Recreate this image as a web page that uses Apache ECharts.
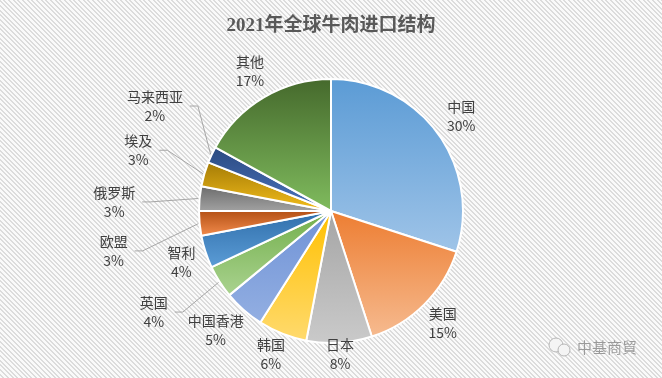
<!DOCTYPE html>
<html><head><meta charset="utf-8">
<script src="https://cdn.jsdelivr.net/npm/echarts@6/dist/echarts.min.js"></script>
<style>
html,body{margin:0;padding:0;}
#c{width:662px;height:378px;background:repeating-linear-gradient(45deg,#fafafa 0px,#fafafa 2px,#dcdcdc 2px,#dcdcdc 3.3px);}
</style></head><body><div id="c"></div>
<script>
// ---- data ----
const categories = ['中国','美国','日本','韩国','中国香港','英国','智利','欧盟','俄罗斯','埃及','马来西亚','其他'];
const shares = [30,15,8,6,5,4,4,3,3,3,2,17];
const titleText = '2021年全球牛肉进口结构';
const watermark = '中基商貿';

// ---- style ----
const colorTop    = ['#5b9bd5','#ed7d31','#a5a5a5','#ffc000','#6f92d6','#72ae4a','#2f6eaa','#b24f14','#6a6a6a','#a37a05','#2a4a80','#45692c'];
const colorBottom = ['#9fc4e8','#f6bb90','#cacaca','#ffda6e','#93afe2','#aad390','#5c9dd7','#f48d4e','#a3a3a3','#f5bf1c','#4c74bf','#80bc5e'];
const withLine  = [false,false,false,false,false,true,false,true,true,true,true,false];
const labelDist = [161,158,143,155,166,204,158,221,217,202,205,162];
const labelTurn = [0,0,0,1.2,2.6,2.7,-0.8,-5,-3,1.3,5.6,0.6];

const CX = 331, CY = 211, R = 132;
const total = shares.reduce((a,b)=>a+b,0);
const mids = []; let acc = 0;
shares.forEach(v => { mids.push((acc + v/2)/total*360); acc += v; });
function pt(angle, d){ const a = angle*Math.PI/180; return [CX + d*Math.sin(a), CY - d*Math.cos(a)]; }

const chart = echarts.init(document.getElementById('c'), null, {renderer:'canvas'});
chart.setOption({
  backgroundColor: 'transparent',
  animation: false,
  title: {
    text: titleText, left: 'center', top: 12,
    textStyle: {fontSize: 19, fontWeight: 'bold', color: '#595959', fontFamily: "'Liberation Serif','Noto Sans CJK SC'"}
  },
  graphic: [
    {type:'circle', shape:{cx:556, cy:345, r:7}, style:{fill:'#f4f4f4', stroke:'#b5b5b5', lineWidth:1}},
    {type:'circle', shape:{cx:564, cy:350, r:6}, style:{fill:'#f4f4f4', stroke:'#b5b5b5', lineWidth:1}},
    {type:'text', left:577, top:340, style:{text: watermark, fontSize:15, fill:'#9a9a9a', fontFamily:"'Noto Sans CJK SC'", textShadowColor:'#ffffff', textShadowBlur:1}}
  ],
  series: [{
    type: 'pie',
    center: [CX, CY],
    radius: [0, R],
    startAngle: 90,
    clockwise: true,
    avoidLabelOverlap: false,
    itemStyle: {borderColor: '#ffffff', borderWidth: 2},
    label: {
      show: true, position: 'outside',
      formatter: '{b}\n{c}%',
      fontSize: 14, lineHeight: 19, color: '#404040',
      fontFamily: "'Noto Sans CJK SC','Noto Sans'"
    },
    labelLine: {show: true, smooth: false, lineStyle: {color: '#a6a6a6', width: 1}},
    labelLayout: function(p){
      const i = p.dataIndex;
      const c = pt(mids[i] + labelTurn[i], labelDist[i]);
      const res = {x: c[0], y: c[1], align: 'center', verticalAlign: 'middle'};
      if (withLine[i]) {
        const sx = c[0] + p.labelRect.width/2 + 7;
        const e = pt(mids[i], R + 1);
        res.labelLinePoints = [e, [sx + 8, c[1]], [sx, c[1]]];
      }
      return res;
    },
    emphasis: {disabled: true},
    data: categories.map((n,i) => ({
      name: n, value: shares[i],
      labelLine: {show: withLine[i]},
      itemStyle: {color: new echarts.graphic.LinearGradient(0,0,0,1,[{offset:0,color:colorTop[i]},{offset:1,color:colorBottom[i]}])}
    }))
  }]
});
</script></body></html>
